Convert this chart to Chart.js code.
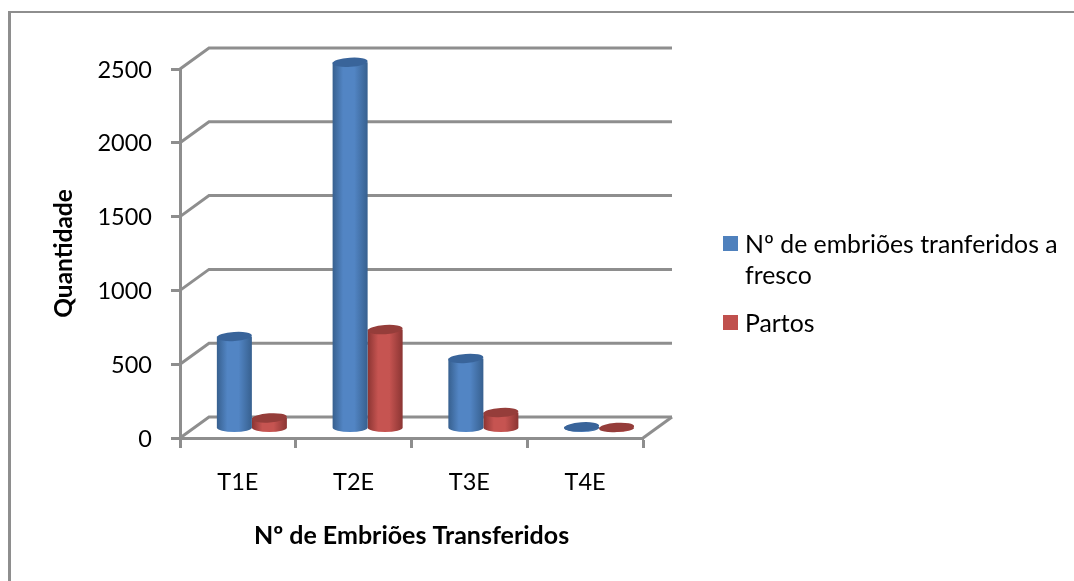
<!DOCTYPE html>
<html>
<head>
<meta charset="utf-8">
<style>
  html, body { margin: 0; padding: 0; background: #fff; }
  #wrap { width: 1074px; height: 581px; }
</style>
<script src="https://cdn.jsdelivr.net/npm/chart.js@4"></script>
</head>
<body>
<div id="wrap"><canvas id="chart" width="1074" height="581"></canvas></div>
<script>
// Embryo transfers and resulting births, by number of embryos transferred
const categories = ['T1E', 'T2E', 'T3E', 'T4E'];
const transferidos = [620, 2478, 471, 8];
const partos = [68, 667, 105, 4];
const serieTransferidos = 'Nº de embriões tranferidos a fresco';
const seriePartos = 'Partos';
const yTicks = [0, 500, 1000, 1500, 2000, 2500];
const tituloY = 'Quantidade';
const tituloX = 'Nº de Embriões Transferidos';

const FONT = 'Lato, Carlito, Calibri, sans-serif';
const AXIS = '#8e8e8e';
const DEPTH = { x: 29, y: -21 };        // back wall offset from the front plane
const BAR_SHIFT = { x: 14, y: -10 };    // bars stand halfway along the floor
const RY = 4.6;

const palette = {
  '#4f81bd': { edge: '#37608f', mid: '#5285c4', top: '#39649a' },
  '#c0504d': { edge: '#8b3533', mid: '#c65451', top: '#953d3a' }
};

// Bars are drawn as shaded cylinders standing on the floor of the 3D plot box.
Chart.BarElement.prototype.draw = function (ctx) {
  const { x, y, base, width } = this.getProps(['x', 'y', 'base', 'width']);
  const shade = palette[this.options.backgroundColor];
  const cx = x + BAR_SHIFT.x, top = y + BAR_SHIFT.y, bottom = base + BAR_SHIFT.y;
  const rx = width / 2;
  const grad = ctx.createLinearGradient(cx - rx, 0, cx + rx, 0);
  grad.addColorStop(0, shade.edge);
  grad.addColorStop(0.3, shade.mid);
  grad.addColorStop(0.62, shade.mid);
  grad.addColorStop(1, shade.edge);
  ctx.save();
  ctx.fillStyle = grad;
  ctx.beginPath();
  ctx.moveTo(cx - rx, top);
  ctx.lineTo(cx - rx, bottom);
  ctx.ellipse(cx, bottom, rx, RY, 0, Math.PI, 0, true);
  ctx.lineTo(cx + rx, top);
  ctx.closePath();
  ctx.fill();
  ctx.fillStyle = shade.top;
  ctx.beginPath();
  ctx.ellipse(cx, top, rx, RY, -0.07, 0, Math.PI * 2);
  ctx.fill();
  ctx.restore();
};

// Outer frame, side wall and back wall gridlines of the plot box
const plotBox = {
  id: 'plotBox',
  beforeDatasetsDraw(chart) {
    const { ctx, scales: { x, y } } = chart;
    const right = x.right;
    const left = x.left;
    ctx.save();
    ctx.strokeStyle = AXIS;
    ctx.lineWidth = 3;
    yTicks.forEach(v => {
      const py = y.getPixelForValue(v);
      ctx.beginPath();
      ctx.moveTo(left, py);
      ctx.lineTo(left + DEPTH.x, py + DEPTH.y);
      ctx.lineTo(right + DEPTH.x, py + DEPTH.y);
      ctx.stroke();
    });
    const floor = y.getPixelForValue(0);
    ctx.beginPath();
    ctx.moveTo(right, floor);
    ctx.lineTo(right + DEPTH.x, floor + DEPTH.y);
    ctx.stroke();
    ctx.restore();
  },
  beforeDraw(chart) {
    const { ctx, width, height } = chart;
    ctx.save();
    ctx.strokeStyle = AXIS;
    ctx.lineWidth = 2;
    ctx.beginPath();
    ctx.moveTo(width, 12);
    ctx.lineTo(9.5, 12);
    ctx.stroke();
    ctx.lineWidth = 3;
    ctx.beginPath();
    ctx.moveTo(9.5, 11);
    ctx.lineTo(9.5, height);
    ctx.stroke();
    ctx.restore();
  }
};

// Legend to the right of the plot, wrapping long series names
const sideLegend = {
  id: 'sideLegend',
  afterDraw(chart) {
    const { ctx } = chart;
    const LEFT = 723, TEXT = 745, MAX = 320, LINE = 31;
    let baseline = 253;
    ctx.save();
    ctx.font = '24.8px ' + FONT;
    ctx.textBaseline = 'alphabetic';
    chart.data.datasets.forEach(ds => {
      const lines = [];
      let cur = '';
      ds.label.split(' ').forEach(word => {
        const next = cur ? cur + ' ' + word : word;
        if (ctx.measureText(next).width > MAX && cur) { lines.push(cur); cur = word; }
        else cur = next;
      });
      lines.push(cur);
      ctx.fillStyle = ds.backgroundColor;
      ctx.fillRect(LEFT, baseline - 17, 15, 15);
      ctx.fillStyle = '#000';
      lines.forEach((l, i) => ctx.fillText(l, TEXT, baseline + i * LINE));
      baseline += (lines.length - 1) * LINE + 48;
    });
    ctx.restore();
  }
};

new Chart(document.getElementById('chart'), {
  type: 'bar',
  data: {
    labels: categories,
    datasets: [
      { label: serieTransferidos, data: transferidos, backgroundColor: '#4f81bd', clip: false,
        categoryPercentage: 0.605, barPercentage: 1 },
      { label: seriePartos, data: partos, backgroundColor: '#c0504d', clip: false,
        categoryPercentage: 0.605, barPercentage: 1 }
    ]
  },
  plugins: [plotBox, sideLegend],
  options: {
    responsive: false,
    animation: false,
    layout: { padding: { left: 0, right: 431, top: 69, bottom: 0 } },
    plugins: { legend: { display: false }, tooltip: { enabled: false }, title: { display: false } },
    scales: {
      x: {
        afterFit(s) { s.height = 143; },
        grid: { drawOnChartArea: false, drawTicks: true, tickLength: 10, tickColor: AXIS, tickWidth: 3, offset: true },
        border: { color: AXIS, width: 3 },
        ticks: { color: '#000', padding: 20, font: { family: FONT, size: 23.5 }, maxRotation: 0 },
        title: { display: true, text: tituloX, color: '#000', padding: { top: 0, bottom: 30 },
                 font: { family: FONT, size: 25, weight: 'bold' } }
      },
      y: {
        min: 0,
        max: 2500,
        afterFit(s) { s.width = 180; },
        afterBuildTicks(s) { s.ticks = yTicks.map(v => ({ value: v })); },
        grid: { drawOnChartArea: false, drawTicks: true, tickLength: 9, tickColor: AXIS, tickWidth: 3 },
        border: { color: AXIS, width: 3 },
        ticks: { color: '#000', padding: 19, labelOffset: 1, font: { family: FONT, size: 23.5 }, callback: v => String(v) },
        title: { display: true, text: tituloY, color: '#000', padding: { top: 49, bottom: 0 },
                 font: { family: FONT, size: 24.5, weight: 'bold' } }
      }
    }
  }
});
</script>
</body>
</html>
